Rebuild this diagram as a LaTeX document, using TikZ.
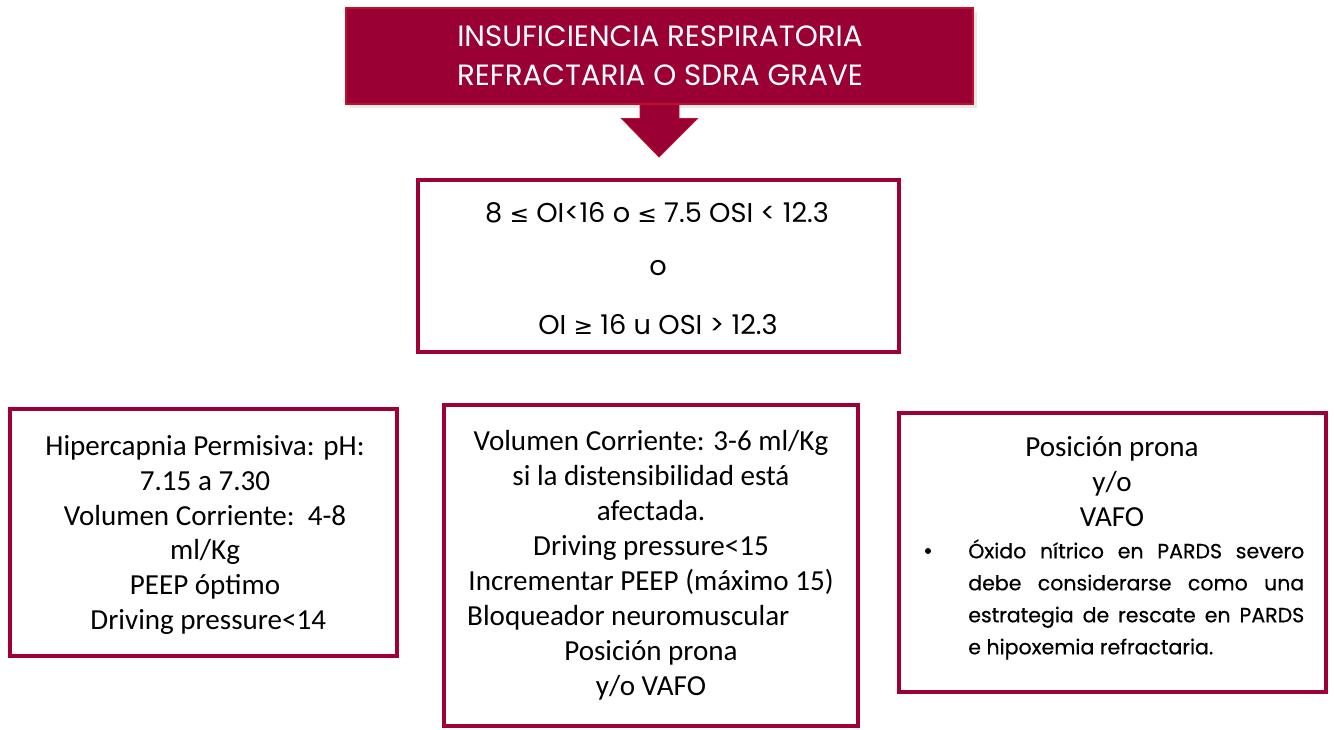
\documentclass[tikz,border=0pt]{standalone}
\usepackage{fontspec}
\setmainfont{Carlito}
\newfontfamily\popf{Poppins}
\newfontfamily\popm{Poppins}[FakeBold=0.5]
\newfontfamily\dejav{DejaVu Sans}
\usetikzlibrary{shadows,calc}
\definecolor{crim}{HTML}{9B0034}
\definecolor{crimedge}{HTML}{C0102A}
\definecolor{crimb}{HTML}{9E0036}
\begin{document}
\begin{tikzpicture}[x=0.75pt,y=-0.75pt,
  redbox/.style={draw=crimb, line width=3pt, fill=white, rectangle, inner sep=0pt},
  bodytext/.style={font=\fontsize{21.8}{26.2}\selectfont, align=center, inner sep=0pt},
  poptext/.style={font=\popf\fontsize{20.4}{24}\selectfont, inner sep=0pt}]
\useasboundingbox (0,0) rectangle (1334,730);
\fill[white] (0,0) rectangle (1334,730);

% title box
\node[rectangle, fill=crim, draw=crimedge, line width=0.8pt, minimum width=627*0.75pt, minimum height=96*0.75pt,
  drop shadow={shadow xshift=3pt, shadow yshift=-3pt, opacity=0.18, fill=gray}] (title) at (659.5,56) {};
\node[font=\popf\fontsize{22}{29}\selectfont, text=white, align=center, inner sep=0pt] (titletext) at (660,56) {INSUFICIENCIA RESPIRATORIA\\REFRACTARIA O SDRA GRAVE};

% arrow
\coordinate (tip) at (659,157);
\filldraw[fill=crim, draw=crimedge, line width=0.6pt]
  ($(title.south)+(-19.5,0)$) -- ($(title.south)+(-19.5,14)$) -- ($(title.south)+(-38,14)$) -- (tip)
  -- ($(title.south)+(38,14)$) -- ($(title.south)+(19.5,14)$) -- ($(title.south)+(19.5,0)$) -- cycle;

% criteria box
\node[redbox, minimum width=481*0.75pt, minimum height=172*0.75pt] (crit) at (658.5,266) {};
\node[poptext] (c1) at (657,213) {8 {\dejav\fontsize{17.5}{20}\selectfont ≤} OI<16 o {\dejav\fontsize{17.5}{20}\selectfont ≤} 7.5 OSI < 12.3};
\node[poptext] (c2) at (658,268) {o};
\node[poptext] (c3) at (658,325) {OI {\dejav\fontsize{17.5}{20}\selectfont ≥} 16 u OSI > 12.3};

% left box
\node[redbox, minimum width=387*0.75pt, minimum height=247*0.75pt] (left) at (203.5,532.5) {};
\node[bodytext] (lefttext) at (205,535) {Hipercapnia Permisiva: pH:\\7.15 a 7.30\\Volumen Corriente:\ \ 4-8\\ml/Kg\\PEEP óptimo\\\ Driving pressure<14};

% middle box
\node[redbox, minimum width=414*0.75pt, minimum height=321*0.75pt] (mid) at (651,565.5) {};
\node[bodytext] (midtext) at (651,565) {Volumen Corriente: 3-6 ml/Kg\\si la distensibilidad está\\afectada.\\Driving pressure<15\\Incrementar PEEP (máximo 15)\\Bloqueador neuromuscular\rule{34pt}{0pt}\\Posición prona\\y/o VAFO};

% right box
\node[redbox, minimum width=427*0.75pt, minimum height=279*0.75pt] (right) at (1112.5,552.5) {};
\node[bodytext] (righttop) at (1112,482) {Posición prona\\y/o\\VAFO};
\fill (928,551) circle (3*0.75pt);
\node[font=\popm\fontsize{15.4}{24}\selectfont, align=left, inner sep=0pt, anchor=north west] (bullettext) at (968,539)
  {\makebox[252pt][s]{Óxido nítrico en PARDS severo}\\
   \makebox[252pt][s]{debe considerarse como una}\\
   \makebox[252pt][s]{estrategia de rescate en PARDS}\\
   e hipoxemia refractaria.};
\end{tikzpicture}
\end{document}
